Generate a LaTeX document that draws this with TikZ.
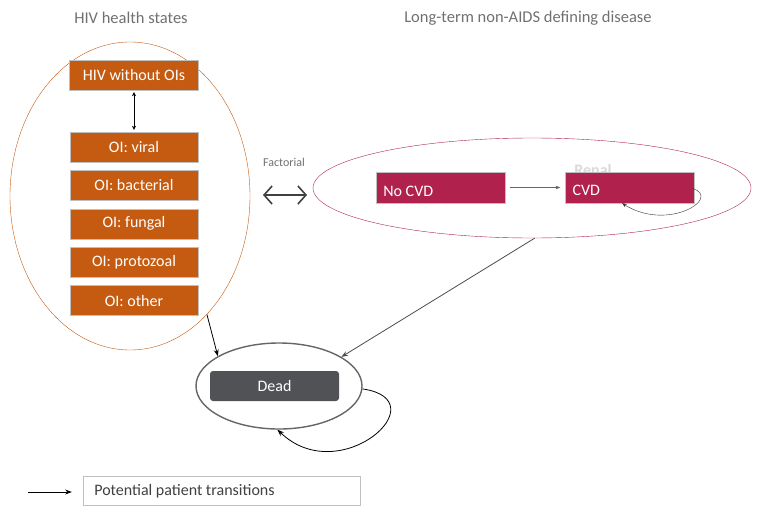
\documentclass[tikz,border=0pt]{standalone}
\usepackage{fontspec}
\setmainfont{Carlito}
\usetikzlibrary{positioning,arrows.meta,shapes.geometric}
\definecolor{oiorange}{HTML}{C55A11}
\definecolor{cvdred}{HTML}{B0214E}
\definecolor{deadgray}{HTML}{505256}
\definecolor{txtgray}{HTML}{707070}

\begin{document}
\begin{tikzpicture}[x=1pt,y=-1pt,>=Stealth,
  oibox/.style={fill=oiorange,draw=gray!50,text=white,minimum width=128pt,minimum height=30pt,inner sep=0pt,font=\fontsize{16}{18}\selectfont},
  cvdbox/.style={fill=cvdred,draw=gray!50,text=white,minimum width=129pt,minimum height=31pt,inner sep=0pt},
  group/.style={ellipse,inner sep=0pt},
  title/.style={text=txtgray,font=\fontsize{16.5}{18}\selectfont}]
\useasboundingbox (0,0) rectangle (768,506);

% headings
\node[title] (t_hiv) at (131,18) {HIV health states};
\node[title] (t_ltd) at (528,18) {Long-term non-AIDS defining disease};

% HIV states
\node[group,draw=oiorange,minimum width=240pt,minimum height=308pt] (hivgroup) at (130,196) {};
\node[oibox,minimum width=129pt] (hiv) at (134,75) {HIV without OIs};
\node[oibox] (viral) at (134,147) {OI: viral};
\node[oibox] (bact) [below=8pt of viral] {OI: bacterial};
\node[oibox] (fungal) [below=8pt of bact] {OI: fungal};
\node[oibox] (proto) [below=8pt of fungal] {OI: protozoal};
\node[oibox] (other) [below=8pt of proto] {OI: other};
\draw[<->,>={Stealth[length=4pt,width=4pt]}] ([yshift=-2pt]hiv.south) -- ([yshift=2pt]viral.north);

% factorial link
\node[text=txtgray,font=\fontsize{12}{14}\selectfont] (fact) at (284,162) {Factorial};
\coordinate (fl) at (263,195);
\coordinate (fr) at (307,195);
\draw[{Straight Barb[length=8pt,width=18pt]}-{Straight Barb[length=8pt,width=18pt]},line width=1.6pt,draw=black!75] (fl) -- (fr);

% CVD states
\node[group,draw=cvdred,minimum width=438pt,minimum height=100pt] (cvdgroup) at (532,188) {};
\node[text=gray!30,inner sep=0pt,font=\fontsize{16}{18}\selectfont\bfseries] (renal) at (593,170) {Renal};
\node[cvdbox] (nocvd) at (440.5,187.5) {};
\node[cvdbox] (cvd) at (630,187.5) {};
\node[text=white,anchor=west,font=\fontsize{16}{18}\selectfont] at ([xshift=4pt,yshift=-4pt]nocvd.west) {No CVD};
\node[text=white,anchor=west,inner sep=2pt,font=\fontsize{16}{18}\selectfont] at ([xshift=5pt,yshift=-3pt]cvd.west) {CVD};
\draw[->,draw=black!60] ([xshift=5pt]nocvd.east) -- ([xshift=-5pt]cvd.west);
\draw[->,draw=black!80] ([xshift=-2pt,yshift=-1pt]cvd.east) .. controls (722,198) and (668,232) .. ([xshift=-8pt]cvd.south);

% dead
\node[group,draw=black!60,line width=1.4pt,minimum width=166pt,minimum height=86pt] (deadgroup) at (279,386) {};
\node[fill=deadgray,rounded corners=3pt,text=white,minimum width=129pt,minimum height=30pt,inner sep=0pt,font=\fontsize{16}{18}\selectfont] (dead) at (274.5,386) {Dead};
\draw[->,line width=0.8pt] (hivgroup.-57) -- (deadgroup.154);
\draw[->,draw=black!70,line width=0.8pt] (cvdgroup.-87) -- (deadgroup.25);
\draw[->,line width=0.8pt] (deadgroup.-2) .. controls (440,400) and (340,490) .. (deadgroup.-92);

% legend
\node[draw=gray!50,minimum width=277pt,minimum height=29pt,inner sep=0pt] (legend) at (221.5,491) {};
\node[anchor=west,text=black!75,font=\fontsize{16}{18}\selectfont] (legtext) at ([xshift=8pt]legend.west) {Potential patient transitions};
\coordinate (la) at (28,492);
\draw[->,line width=0.8pt] (la) -- ([xshift=-11pt,yshift=-1pt]legend.west);
\end{tikzpicture}
\end{document}
